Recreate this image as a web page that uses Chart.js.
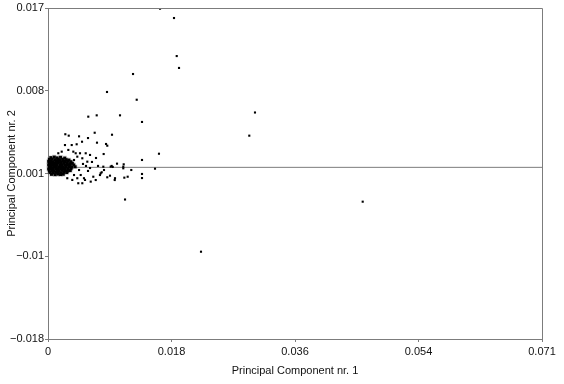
<!DOCTYPE html>
<html>
<head>
<meta charset="utf-8">
<script src="https://cdn.jsdelivr.net/npm/chart.js@4/dist/chart.umd.min.js"></script>
<style>
  html, body { margin: 0; padding: 0; background: #fff; }
  #chart-display { display: block; }
</style>
</head>
<body>
<canvas id="chart-display" width="564" height="384"></canvas>
<script>
// axis ranges and tick labels as printed on the original
var xMin = 0, xMax = 0.071;
var yMin = -0.018, yMax = 0.017;
var xTickValues = [0, 0.01775, 0.0355, 0.05325, 0.071];
var xTickLabels = ['0', '0.018', '0.036', '0.054', '0.071'];
var yTickValues = [-0.018, -0.00925, -0.0005, 0.00825, 0.017];
var yTickLabels = ['\u22120.018', '\u22120.01', '0.001', '0.008', '0.017'];
var baselineY = 0.00015;

// [PC1, PC2] pairs - the dense blob near the origin
var clusterPoints = [
    [0.0004,0.00118],[0.0009,0.00124],[0.0013,0.00115],[0.0018,0.00121],[0.0024,0.00113],
    [0.0002,0.00098],[0.0006,0.00103],[0.0010,0.00096],[0.0014,0.00101],[0.0017,0.00094],[0.0021,0.00100],[0.0026,0.00097],[0.0030,0.00092],
    [0.0001,0.00078],[0.0004,0.00082],[0.0007,0.00076],[0.0011,0.00081],[0.0014,0.00079],[0.0018,0.00074],[0.0022,0.00080],[0.0025,0.00077],[0.0029,0.00083],[0.0033,0.00075],
    [0.0002,0.00058],[0.0005,0.00061],[0.0008,0.00056],[0.0012,0.00060],[0.0015,0.00063],[0.0019,0.00057],[0.0023,0.00059],[0.0027,0.00062],[0.0031,0.00055],[0.0035,0.00058],
    [0.0001,0.00041],[0.0004,0.00037],[0.0007,0.00042],[0.0010,0.00039],[0.0013,0.00036],[0.0017,0.00040],[0.0020,0.00043],[0.0024,0.00038],[0.0028,0.00041],[0.0032,0.00036],[0.0037,0.00040],
    [0.0002,0.00019],[0.0005,0.00022],[0.0009,0.00017],[0.0012,0.00021],[0.0016,0.00018],[0.0019,0.00023],[0.0022,0.00016],[0.0026,0.00020],[0.0030,0.00022],[0.0034,0.00017],[0.0039,0.00021],
    [0.0001,-0.00002],[0.0004,0.00003],[0.0007,-0.00001],[0.0011,0.00002],[0.0014,-0.00003],[0.0018,0.00001],[0.0021,-0.00002],[0.0025,0.00003],[0.0029,-0.00001],[0.0033,0.00002],
    [0.0002,-0.00021],[0.0006,-0.00018],[0.0009,-0.00023],[0.0013,-0.00019],[0.0016,-0.00022],[0.0020,-0.00017],[0.0024,-0.00020],[0.0028,-0.00024],[0.0032,-0.00019],
    [0.0003,-0.00039],[0.0007,-0.00042],[0.0011,-0.00038],[0.0015,-0.00041],[0.0019,-0.00043],[0.0023,-0.00037],[0.0027,-0.00040],
    [0.0005,-0.00059],[0.0010,-0.00062],[0.0014,-0.00057],[0.0018,-0.00061],[0.0022,-0.00058]
];

// scattered points around the blob
var spreadPoints = [
    [0.00148,0.00164],[0.00197,0.00181],[0.00292,0.00199],[0.00364,0.00181],[0.00460,0.00164],[0.00604,0.00146],
    [0.00398,0.00164],[0.00542,0.00164],[0.00421,0.00128],[0.00493,0.00111],[0.00374,0.00093],[0.00565,0.00075],
    [0.00503,0.00051],[0.00632,0.00072],[0.00690,0.00114],[0.00546,0.00030],[0.00604,0.00008],[0.00719,0.00030],
    [0.00446,-0.00013],[0.00575,-0.00023],[0.00374,-0.00066],[0.00470,-0.00066],[0.00277,-0.00100],[0.00349,-0.00118],
    [0.00421,-0.00100],[0.00517,-0.00100],[0.00532,-0.00118],[0.00493,-0.00153],[0.00435,-0.00153],[0.00614,-0.00136],
    [0.00651,-0.00084],[0.00747,-0.00066],[0.00757,-0.00048],[0.00805,-0.00013],[0.00795,0.00022],[0.00901,0.00022],
    [0.00915,0.00030],[0.00963,-0.00100],
    [0.00579,0.00551],[0.00700,0.00565],[0.00920,0.00360],[0.00249,0.00365],[0.00298,0.00350],[0.00446,0.00343],
    [0.00671,0.00381],[0.00575,0.00325],[0.00489,0.00286],[0.00341,0.00251],[0.00244,0.00251],[0.00412,0.00259],
    [0.00704,0.00276],[0.00834,0.00262],[0.00852,0.00244],[0.01595,0.00159],[0.01351,0.00093],[0.00800,0.00156],
    [0.00992,0.00054],[0.01088,0.00047],[0.01538,0.00001],[0.01351,-0.00055],[0.01351,-0.00098],[0.01197,-0.00013],
    [0.01145,-0.00084],[0.01097,-0.00094],[0.00959,-0.00119],[0.00891,-0.00073],[0.00852,-0.00090],[0.00772,-0.00037],
    [0.00686,-0.00119],[0.00930,0.00019],[0.01082,0.00022],[0.01082,0.00005]
];

// the far away ones
var outlierPoints = [
    [0.01610,0.01693],[0.01811,0.01594],[0.01850,0.01192],[0.01883,0.01066],[0.01222,0.01002],
    [0.00848,0.00812],[0.01275,0.00730],[0.01035,0.00565],[0.01351,0.00495],[0.02975,0.00595],
    [0.02893,0.00350],[0.04523,-0.00348],[0.02199,-0.00877],[0.01107,-0.00325]
];

var ctx = document.getElementById('chart-display');
var axisGray = '#7c7c7c';
var fontFamily = "'Liberation Sans', Arial, Helvetica, sans-serif";

function toXY(pairs) {
    return pairs.map(function(p) {
        return { x: p[0], y: p[1] };
    });
}

// top + right edges of the plot box
var framePlugin = {
    id: 'frame',
    afterDatasetsDraw: function(chart) {
        var a = chart.chartArea;
        var c = chart.ctx;
        c.save();
        c.strokeStyle = axisGray;
        c.lineWidth = 1;
        c.beginPath();
        c.moveTo(a.left, a.top + 0.5);
        c.lineTo(a.right + 0.5, a.top + 0.5);
        c.lineTo(a.right + 0.5, a.bottom);
        c.stroke();
        c.restore();
    }
};

new Chart(ctx, {
    type: 'scatter',
    data: {
        datasets: [{
            label: 'scores',
            data: toXY(spreadPoints.concat(outlierPoints)),
            pointStyle: 'rect',
            pointRadius: 1.5,
            backgroundColor: '#000',
            borderWidth: 0
        }, {
            // overlapping points near the origin, drawn a bit fuzzy like the original
            label: 'scores (dense)',
            data: toXY(clusterPoints),
            pointStyle: 'rect',
            pointRadius: 2.1,
            backgroundColor: '#000',
            borderColor: 'rgba(0,0,0,0.18)',
            borderWidth: 1.5,
            clip: false
        }, {
            type: 'line',
            label: 'baseline',
            data: [{ x: xMin, y: baselineY }, { x: xMax, y: baselineY }],
            borderColor: axisGray,
            borderWidth: 1,
            pointRadius: 0,
            showLine: true
        }]
    },
    options: {
        responsive: false,
        devicePixelRatio: 1,
        animation: false,
        events: [],
        layout: { padding: { top: 8, right: 22, left: 0, bottom: 0 } },
        plugins: { legend: { display: false }, tooltip: { enabled: false } },
        scales: {
            x: {
                type: 'linear',
                min: xMin,
                max: xMax,
                afterBuildTicks: function(scale) {
                    scale.ticks = xTickValues.map(function(v) { return { value: v }; });
                },
                afterFit: function(scale) { scale.height = 45; },
                ticks: {
                    autoSkip: false,
                    maxRotation: 0,
                    padding: 3,
                    color: '#111',
                    font: { family: fontFamily, size: 11 },
                    callback: function(v, i) { return xTickLabels[i]; }
                },
                grid: { drawOnChartArea: false, tickLength: 3, color: axisGray },
                border: { color: axisGray },
                title: {
                    display: true,
                    text: 'Principal Component nr. 1',
                    color: '#111',
                    font: { family: fontFamily, size: 11 },
                    padding: { top: 0, bottom: 6 }
                }
            },
            y: {
                type: 'linear',
                min: yMin,
                max: yMax,
                afterBuildTicks: function(scale) {
                    scale.ticks = yTickValues.map(function(v) { return { value: v }; });
                },
                afterFit: function(scale) { scale.width = 48; },
                ticks: {
                    autoSkip: false,
                    padding: 1,
                    color: '#111',
                    font: { family: fontFamily, size: 11 },
                    callback: function(v, i) { return yTickLabels[i]; }
                },
                grid: { drawOnChartArea: false, tickLength: 3, color: axisGray },
                border: { color: axisGray },
                title: {
                    display: true,
                    text: 'Principal Component nr. 2',
                    color: '#111',
                    font: { family: fontFamily, size: 11 },
                    padding: { top: 5, bottom: 0 }
                }
            }
        }
    },
    plugins: [framePlugin]
});
</script>
</body>
</html>
